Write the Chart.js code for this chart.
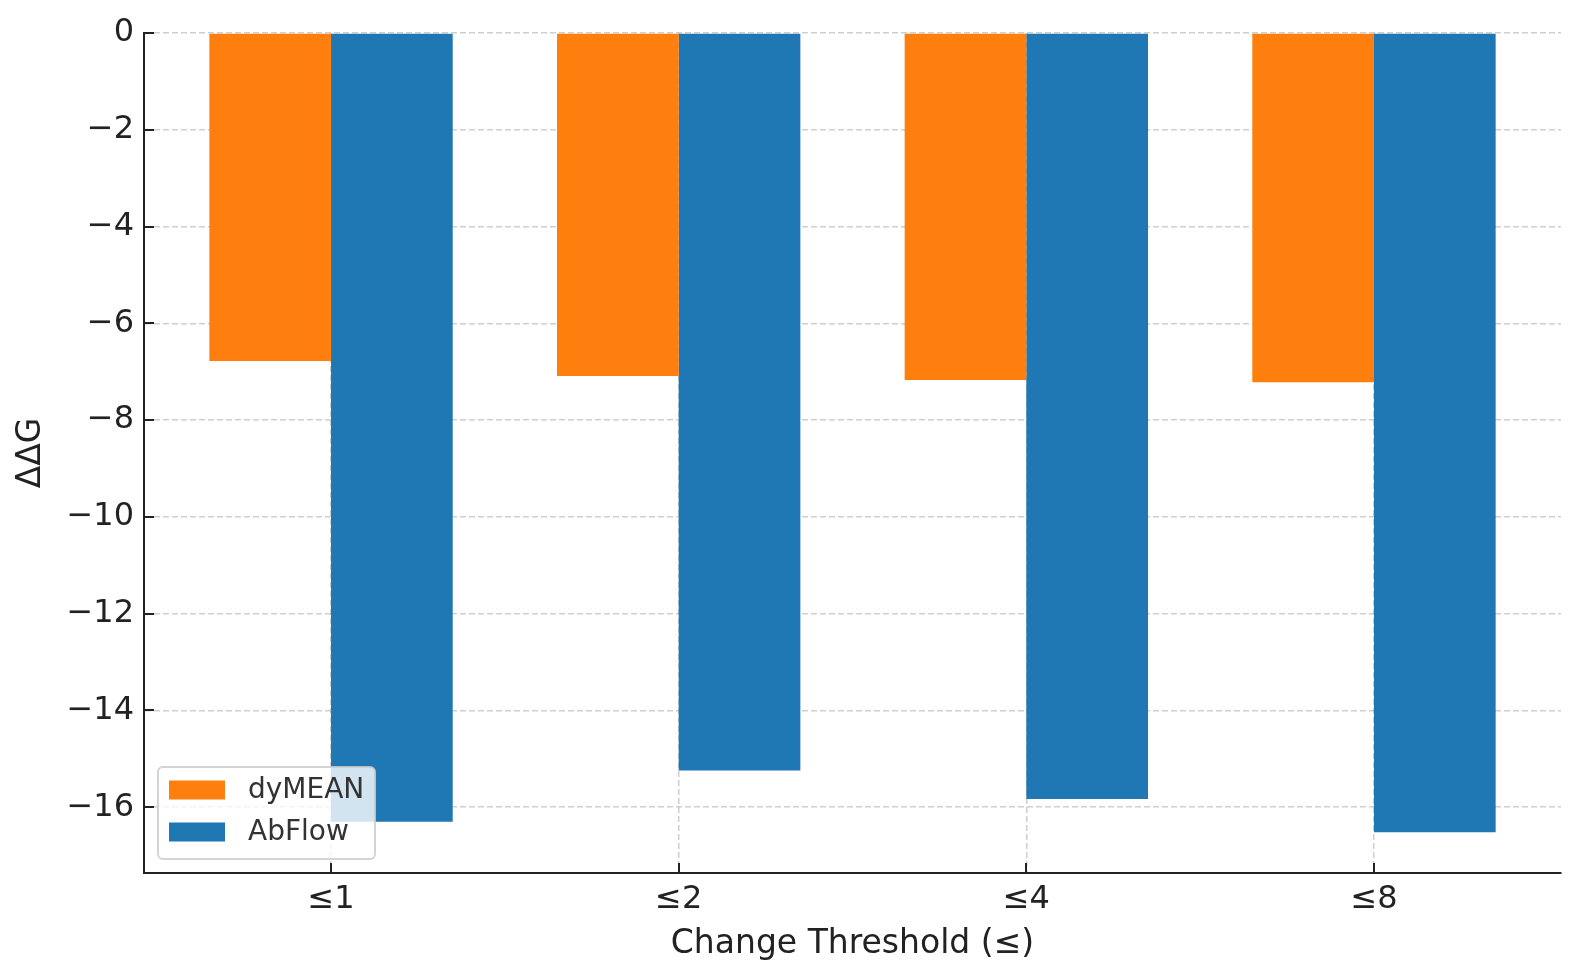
<!DOCTYPE html>
<html>
<head>
<meta charset="utf-8">
<script src="https://cdn.jsdelivr.net/npm/chart.js@4"></script>
<style>
  html, body { margin: 0; padding: 0; background: #fff; }
  canvas { display: block; }
</style>
</head>
<body>
<canvas id="c" width="1580" height="980"></canvas>
<script>
const categories = ['≤1', '≤2', '≤4', '≤8'];
const seriesNames = ['dyMEAN', 'AbFlow'];
const dyMEAN = [-6.78, -7.09, -7.17, -7.22];
const AbFlow = [-16.30, -15.24, -15.83, -16.52];
const yTicks = [0, -2, -4, -6, -8, -10, -12, -14, -16];
const colors = ['#ff7f0e', '#1f77b4'];

const FONT = "'DejaVu Sans', sans-serif";
const AXIS = '#222222';
const GRID = 'rgba(160,160,160,0.5)';

const toPoints = arr => arr.map((v, i) => ({ x: i, y: v }));
const fmt = v => (v < 0 ? '\u2212' + Math.abs(v) : String(v));

const inwardTicks = {
  id: 'inwardTicks',
  afterDraw(chart) {
    const { ctx, chartArea: a, scales: { x, y } } = chart;
    ctx.save();
    ctx.strokeStyle = AXIS;
    ctx.lineWidth = 2;
    ctx.setLineDash([]);
    ctx.beginPath();
    y.ticks.forEach(t => {
      const py = Math.round(y.getPixelForValue(t.value));
      ctx.moveTo(a.left, py); ctx.lineTo(a.left + 10, py);
    });
    x.ticks.forEach(t => {
      const px = Math.round(x.getPixelForValue(t.value));
      ctx.moveTo(px, a.bottom); ctx.lineTo(px, a.bottom - 10);
    });
    ctx.stroke();
    ctx.restore();
  }
};

const innerLegend = {
  id: 'innerLegend',
  afterDraw(chart) {
    const { ctx, chartArea: a } = chart;
    const x0 = a.left + 14, w = 217, h = 92;
    const y0 = a.bottom - 14 - h;
    ctx.save();
    ctx.setLineDash([]);
    ctx.beginPath();
    ctx.roundRect(x0, y0, w, h, 5);
    ctx.fillStyle = 'rgba(255,255,255,0.8)';
    ctx.fill();
    ctx.lineWidth = 2;
    ctx.strokeStyle = 'rgba(204,204,204,0.85)';
    ctx.stroke();
    ctx.font = '28px ' + FONT;
    ctx.textBaseline = 'middle';
    chart.data.datasets.forEach((ds, i) => {
      const cy = y0 + 23 + i * 42;
      ctx.fillStyle = ds.backgroundColor;
      ctx.fillRect(x0 + 11, cy - 9.5, 56, 19);
      ctx.fillStyle = '#333333';
      ctx.fillText(ds.label, x0 + 90, cy + 1);
    });
    ctx.restore();
  }
};

new Chart(document.getElementById('c'), {
  type: 'bar',
  data: {
    datasets: [
      { label: seriesNames[0], data: toPoints(dyMEAN), backgroundColor: colors[0], borderWidth: 0 },
      { label: seriesNames[1], data: toPoints(AbFlow), backgroundColor: colors[1], borderWidth: 0 }
    ]
  },
  options: {
    responsive: false,
    devicePixelRatio: 1,
    animation: false,
    categoryPercentage: 0.7,
    barPercentage: 1.0,
    layout: { padding: { left: 0, right: 19, top: 33, bottom: 0 } },
    plugins: { legend: { display: false }, tooltip: { enabled: false } },
    scales: {
      x: {
        type: 'linear',
        min: -0.538,
        max: 3.538,
        offset: false,
        z: 1,
        afterBuildTicks: s => { s.ticks = categories.map((c, i) => ({ value: i })); },
        afterFit: s => { s.height = 107; },
        grid: { color: GRID, lineWidth: 1.5, drawTicks: false, offset: false },
        border: { display: true, color: AXIS, width: 2, dash: [6, 3] },
        ticks: {
          padding: 7,
          color: '#222222',
          font: { family: FONT, size: 32 },
          callback: v => categories[v] ?? ''
        },
        title: {
          display: true,
          text: 'Change Threshold (≤)',
          color: '#222222',
          font: { family: FONT, size: 33 },
          padding: { top: 0, bottom: 16 }
        }
      },
      y: {
        min: -17.36,
        max: 0,
        z: 1,
        afterBuildTicks: s => { s.ticks = yTicks.map(v => ({ value: v })); },
        afterFit: s => { s.width = 144; },
        grid: { color: GRID, lineWidth: 1.5, drawTicks: false },
        border: { display: true, color: AXIS, width: 2, dash: [6, 3] },
        ticks: {
          padding: 10,
          color: '#222222',
          font: { family: FONT, size: 32 },
          callback: v => fmt(v)
        },
        title: {
          display: true,
          text: 'ΔΔG',
          color: '#222222',
          font: { family: FONT, size: 33 },
          padding: { top: 12, bottom: 0 }
        }
      }
    }
  },
  plugins: [inwardTicks, innerLegend]
});
</script>
</body>
</html>
